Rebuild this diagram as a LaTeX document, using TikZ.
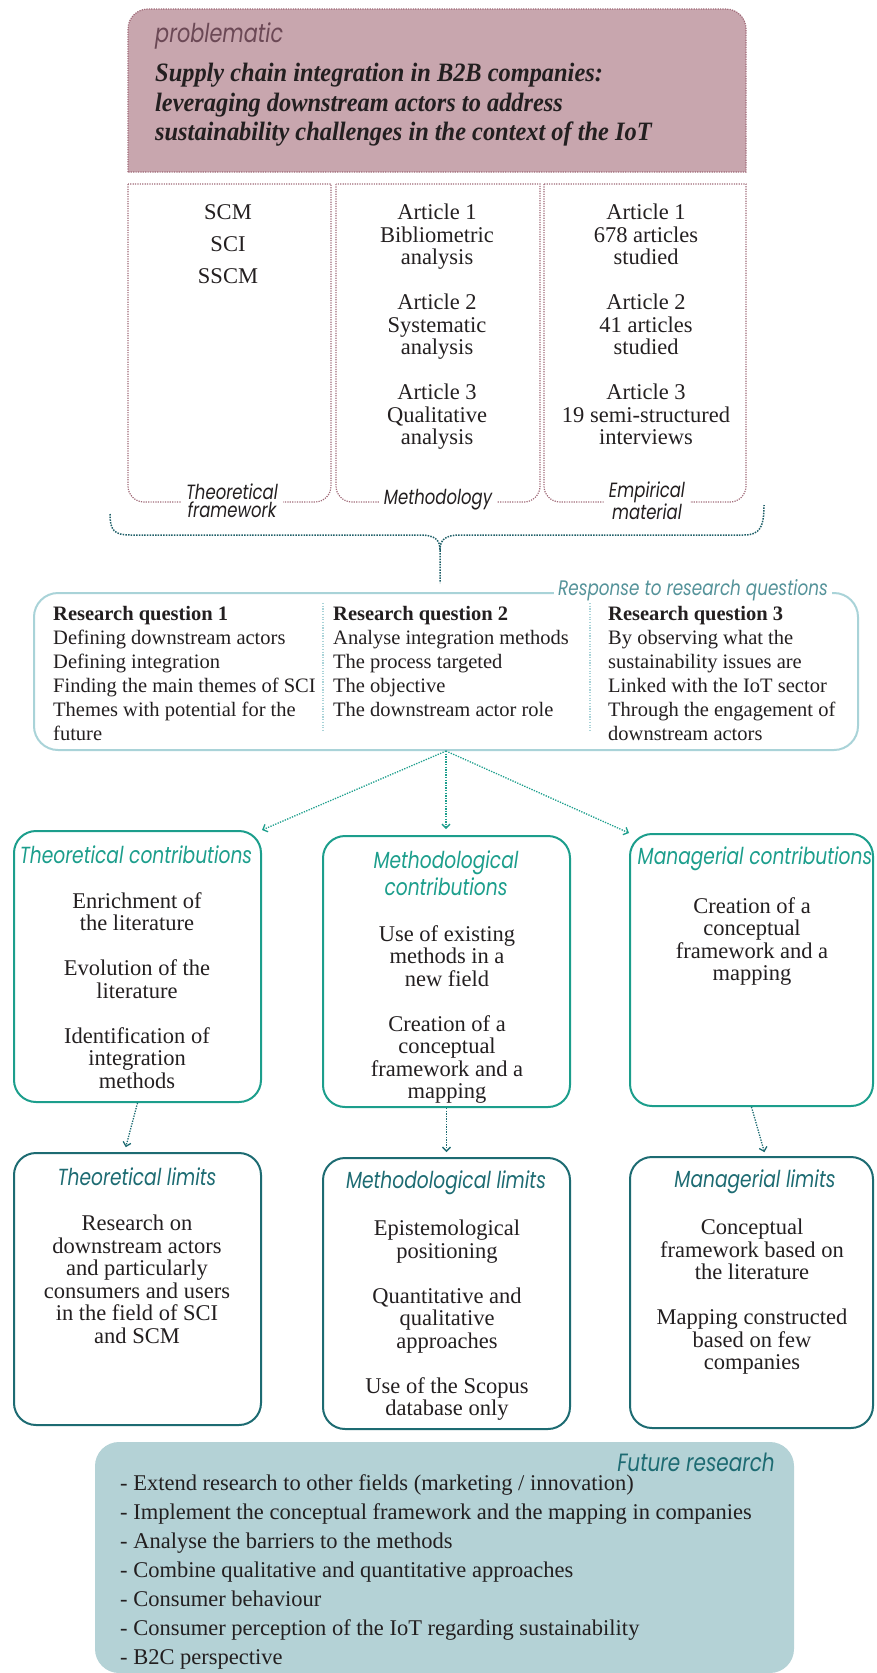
\documentclass[tikz,border=0pt]{standalone}
\usepackage{fontspec}
\setmainfont{Liberation Serif}
\newfontfamily\futura{Poppins}[FakeStretch=0.8]
\newfontfamily\headfont{Liberation Serif}[FakeStretch=0.92]
\usetikzlibrary{arrows.meta,positioning,fit}
\definecolor{pinkfill}{HTML}{C8A6AE}
\definecolor{pinkline}{HTML}{A06A78}
\definecolor{plum}{HTML}{6B4855}
\definecolor{contrib}{HTML}{1C9E8C}
\definecolor{limit}{HTML}{1D6B72}
\definecolor{bracecol}{HTML}{1F5F68}
\definecolor{resline}{HTML}{A9D3D8}
\definecolor{reslabel}{HTML}{55939A}
\definecolor{futfill}{HTML}{B4D2D6}
\definecolor{ink}{HTML}{231F20}

\begin{document}
\begin{tikzpicture}[
  x=1pt, y=-1pt,
  every node/.style={inner sep=0pt, text=ink},
  bodytext/.style={font=\fontsize{22.5}{22.5}\selectfont, align=center, anchor=north},
  restext/.style={font=\fontsize{20.5}{24}\selectfont, align=left, anchor=north west},
  collabel/.style={font=\futura\itshape\fontsize{20.6}{18}\selectfont, align=center, fill=white, inner xsep=5pt},
  ctitle/.style={font=\futura\itshape\fontsize{23.3}{27}\selectfont, align=center, text=contrib},
  ltitle/.style={font=\futura\itshape\fontsize{23.3}{27}\selectfont, align=center, text=limit},
  cbox/.style={draw=contrib, line width=2pt, rounded corners=22pt, inner sep=0pt},
  lbox/.style={draw=limit, line width=2pt, rounded corners=22pt, inner sep=0pt},
  colbox/.style={draw=pinkline, line width=1.2pt, dash pattern=on 1.2pt off 1.2pt},
  dotarrow/.style={line width=1.3pt, dash pattern=on 1.3pt off 1.3pt, -{Straight Barb[length=4pt,width=8pt]}}
]
\useasboundingbox (0,0) rectangle (876,1673);

% problematic
\draw[colbox, fill=pinkfill] (128,172) -- (128,29) arc[start angle=180, end angle=270, radius=20]
  -- (726,9) arc[start angle=270, end angle=360, radius=20] -- (746,172) -- cycle;
\node[anchor=west, font=\futura\itshape\fontsize{26}{26}\selectfont, text=plum] (prob) at (155,36) {problematic};
\node[anchor=north west, align=left, font=\headfont\bfseries\itshape\fontsize{26.5}{29.5}\selectfont] (subject) at (155,63)
  {Supply chain integration in B2B companies:\\leveraging downstream actors to address\\sustainability challenges in the context of the IoT};

\foreach \xl/\xr in {128/331, 336/540, 544/746}
  \draw[colbox] (\xl,184) -- (\xl,486) arc[start angle=180, end angle=90, radius=16]
    -- (\xr-16,502) arc[start angle=90, end angle=0, radius=16] -- (\xr,184) -- cycle;

\node[bodytext] (frame) at (228,204) {SCM\\[9.5pt]SCI\\[9.5pt]SSCM};
\node[bodytext] (method) at (437,204) {Article 1\\Bibliometric\\analysis\\[22.5pt]Article 2\\Systematic\\analysis\\[22.5pt]Article 3\\Qualitative\\analysis};
\node[bodytext] (empir) at (646,204) {Article 1\\678 articles\\studied\\[22.5pt]Article 2\\41 articles\\studied\\[22.5pt]Article 3\\19 semi-structured\\interviews};
\node[collabel] (framel) at (232,501) {Theoretical\\framework};
\node[collabel] (methodl) at (438,500) {Methodology};
\node[collabel] (empirl) at (647,501) {Empirical\\material};

% brace
\coordinate (braceL) at (110,514);
\coordinate (braceR) at (764,505);
\coordinate (braceM) at (440,550);
\coordinate (braceE) at (440,583);
\draw[draw=bracecol, line width=1.5pt, dash pattern=on 1.5pt off 1.2pt]
  (braceL) .. controls (110,530) and (114,535) .. (130,535) -- (420,535)
  .. controls (435,535) and (440,540) .. (braceM) -- (braceE)
  (braceM) .. controls (440,540) and (445,535) .. (460,535) -- (744,535)
  .. controls (760,535) and (764,527) .. (braceR);

% research questions
\node[draw=resline, line width=2pt, rounded corners=24pt, fit={(34,593) (858,750)}] (res) {};
\node[fill=white, inner xsep=4pt, font=\futura\itshape\fontsize{21}{21}\selectfont, text=reslabel] (resl) at (693,590) {Response to research questions};
\draw[draw=resline, line width=1.2pt, dash pattern=on 1.2pt off 1.5pt] (323,603) -- (323,730) (590,603) -- (590,730);
\node[restext] (rq1) at (53,606) {\textbf{Research question 1}\\Defining downstream actors\\Defining integration\\Finding the main themes of SCI\\Themes with potential for the\\future};
\node[restext] (rq2) at (333,606) {\textbf{Research question 2}\\Analyse integration methods\\The process targeted\\The objective\\The downstream actor role};
\node[restext] (rq3) at (608,606) {\textbf{Research question 3}\\By observing what the\\sustainability issues are\\Linked with the IoT sector\\Through the engagement of\\downstream actors};

% contributions
\node[cbox, fit={(14,831) (261,1102)}] (tcon) {};
\node[cbox, fit={(323,836) (570,1107)}] (mcon) {};
\node[cbox, fit={(630,834) (873,1106)}] (gcon) {};
\node[ctitle] (tcont) at (136,855) {Theoretical contributions};
\node[ctitle] (mcont) at (446,873) {Methodological\\contributions};
\node[ctitle] (gcont) at (755,859) {Managerial contributions};
\node[bodytext] (tconb) at (137,892) {Enrichment of\\the literature\\[22.5pt]Evolution of the\\literature\\[22.5pt]Identification of\\integration\\methods};
\node[bodytext] (mconb) at (447,925) {Use of existing\\methods in a\\new field\\[22.5pt]Creation of a\\conceptual\\framework and a\\mapping};
\node[bodytext] (gconb) at (752,897) {Creation of a\\conceptual\\framework and a\\mapping};

\draw[dotarrow, draw=contrib] (res.south) -- (tcon.north east);
\draw[dotarrow, draw=contrib, shorten >=6pt] (res.south) -- (res.south |- mcon.north);
\draw[dotarrow, draw=contrib] (res.south) -- (gcon.north west);

% limits
\node[lbox, fit={(14,1153) (261,1425)}] (tlim) {};
\node[lbox, fit={(323,1158) (570,1429)}] (mlim) {};
\node[lbox, fit={(630,1157) (873,1428)}] (glim) {};
\node[ltitle] (tlimt) at (137,1177) {Theoretical limits};
\node[ltitle] (mlimt) at (446,1183) {Methodological limits};
\node[ltitle] (glimt) at (755,1182) {Managerial limits};
\node[bodytext] (tlimb) at (137,1215) {Research on\\downstream actors\\and particularly\\consumers and users\\in the field of SCI\\and SCM};
\node[bodytext] (mlimb) at (447,1220) {Epistemological\\positioning\\[22.5pt]Quantitative and\\qualitative\\approaches\\[22.5pt]Use of the Scopus\\database only};
\node[bodytext] (glimb) at (752,1219) {Conceptual\\framework based on\\the literature\\[22.5pt]Mapping constructed\\based on few\\companies};

\draw[dotarrow, draw=limit, shorten >=5pt] (tcon.south) -- ([xshift=-13pt]tlim.north);
\draw[dotarrow, draw=limit, shorten >=5pt] (mcon.south) -- (mlim.north);
\draw[dotarrow, draw=limit, shorten >=4pt] (gcon.south) -- ([xshift=14pt]glim.north);

% future research
\node[fill=futfill, rounded corners=24pt, fit={(95,1442) (794,1673)}] (fut) {};
\node[anchor=east, font=\futura\itshape\fontsize{25}{25}\selectfont, text=limit] (futt) at (775,1462) {Future research};
\node[anchor=north west, align=left, font=\fontsize{22.5}{29}\selectfont] (futb) at (120,1474)
  {- Extend research to other fields (marketing / innovation)\\
   - Implement the conceptual framework and the mapping in companies\\
   - Analyse the barriers to the methods\\
   - Combine qualitative and quantitative approaches\\
   - Consumer behaviour\\
   - Consumer perception of the IoT regarding sustainability\\
   - B2C perspective};
\end{tikzpicture}
\end{document}
